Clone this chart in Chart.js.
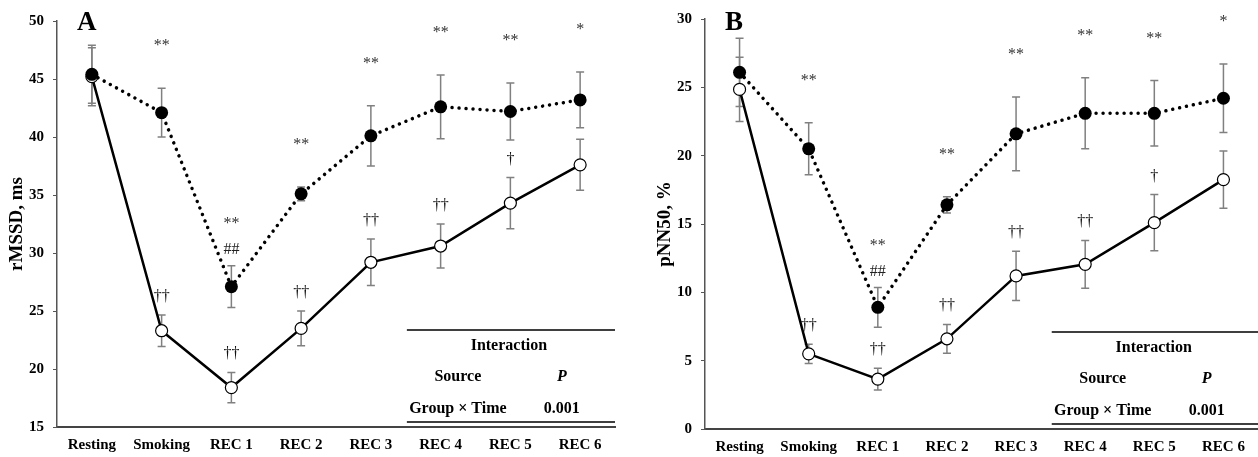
<!DOCTYPE html>
<html>
<head>
<meta charset="utf-8">
<script src="https://cdn.jsdelivr.net/npm/chart.js@4"></script>
<style>
  body { margin: 0; background: #fff; }
  #wrap { position: relative; width: 1258px; height: 457px; overflow: hidden; }
  canvas { position: absolute; top: 0; }
</style>
</head>
<body>
<div id="wrap">
  <canvas id="chartA" width="629" height="457" style="left:0"></canvas>
  <canvas id="chartB" width="610" height="457" style="left:648px"></canvas>
</div>
<script>
const timePoints = ['Resting', 'Smoking', 'REC 1', 'REC 2', 'REC 3', 'REC 4', 'REC 5', 'REC 6'];

// panel A: rMSSD, ms
const rmssdFilled = [45.4, 42.1, 27.1, 35.1, 40.1, 42.6, 42.2, 43.2];
const rmssdFilledErr = [2.5, 2.1, 1.8, 0.6, 2.6, 2.75, 2.45, 2.4];
const rmssdOpen = [45.2, 23.3, 18.4, 23.5, 29.2, 30.6, 34.3, 37.6];
const rmssdOpenErr = [2.5, 1.35, 1.3, 1.5, 2.0, 1.9, 2.2, 2.2];
const rmssdStars = ['', '**', '**', '**', '**', '**', '**', '*'];
const rmssdHashes = ['', '', '##', '', '', '', '', ''];
const rmssdDaggers = ['', '††', '††', '††', '††', '††', '†', ''];
const rmssdTicks = { min: 15, max: 50, step: 5 };

// panel B: pNN50, %
const pnnFilled = [26.1, 20.5, 8.9, 16.4, 21.6, 23.1, 23.1, 24.2];
const pnnFilledErr = [2.5, 1.9, 1.45, 0.6, 2.7, 2.6, 2.4, 2.5];
const pnnOpen = [24.85, 5.5, 3.65, 6.6, 11.2, 12.05, 15.1, 18.25];
const pnnOpenErr = [2.35, 0.7, 0.8, 1.05, 1.8, 1.75, 2.05, 2.1];
const pnnStars = ['', '**', '**', '**', '**', '**', '**', '*'];
const pnnHashes = ['', '', '##', '', '', '', '', ''];
const pnnDaggers = ['', '††', '††', '††', '††', '††', '†', ''];
const pnnTicks = { min: 0, max: 30, step: 5 };

// interaction table
const tableTitle = 'Interaction';
const tableHead = ['Source', 'P'];
const tableRow = ['Group × Time', '0.001'];

const SERIF = "'Liberation Serif', 'Times New Roman', serif";

function makeChart(id, opts) {
  const overlay = {
    id: 'overlay',
    beforeDatasetsDraw(chart) {
      const ctx = chart.ctx;
      const y = chart.scales.y;
      ctx.save();
      ctx.strokeStyle = '#808080';
      ctx.lineWidth = 1.5;
      chart.data.datasets.forEach((ds, di) => {
        const meta = chart.getDatasetMeta(di);
        meta.data.forEach((pt, i) => {
          const v = ds.data[i], e = ds.errors[i];
          const top = y.getPixelForValue(v + e), bot = y.getPixelForValue(v - e);
          ctx.beginPath();
          ctx.moveTo(pt.x, top); ctx.lineTo(pt.x, bot);
          ctx.moveTo(pt.x - 4, top); ctx.lineTo(pt.x + 4, top);
          ctx.moveTo(pt.x - 4, bot); ctx.lineTo(pt.x + 4, bot);
          ctx.stroke();
        });
      });
      ctx.restore();
    },
    afterDraw(chart) {
      const ctx = chart.ctx;
      const y = chart.scales.y;
      const ca = chart.chartArea;
      const filled = chart.getDatasetMeta(0).data;
      const open = chart.getDatasetMeta(1).data;
      ctx.save();
      ctx.textAlign = 'center';
      ctx.textBaseline = 'alphabetic';
      filled.forEach((pt, i) => {
        const top = y.getPixelForValue(opts.filled[i] + opts.filledErr[i]);
        if (opts.stars[i]) {
          ctx.fillStyle = '#333';
          ctx.font = '16px ' + SERIF;
          ctx.fillText(opts.stars[i], pt.x, top - 46 + 8);
        }
        if (opts.hashes[i]) {
          ctx.fillStyle = '#222';
          ctx.font = '16px ' + SERIF;
          ctx.fillText(opts.hashes[i], pt.x, top - 18 + 6);
        }
      });
      open.forEach((pt, i) => {
        const top = y.getPixelForValue(opts.open[i] + opts.openErr[i]);
        if (opts.daggers[i]) {
          ctx.fillStyle = '#111';
          ctx.font = '16px ' + SERIF;
          ctx.fillText(opts.daggers[i], pt.x, top - 19 + 5);
        }
      });

      // panel letter
      ctx.fillStyle = '#000';
      ctx.textAlign = 'left';
      ctx.font = 'bold 27px ' + SERIF;
      ctx.fillText(opts.letter, ca.left + 20, 30);

      // interaction table
      const tl = ca.left + 0.627 * (ca.right - ca.left);
      const tr = ca.right;
      const b = ca.bottom;
      ctx.strokeStyle = '#000';
      ctx.lineWidth = 1.5;
      ctx.beginPath();
      ctx.moveTo(tl, b - 97); ctx.lineTo(tr, b - 97);
      ctx.moveTo(tl, b - 5); ctx.lineTo(tr, b - 5);
      ctx.stroke();
      ctx.textAlign = 'center';
      ctx.textBaseline = 'middle';
      ctx.font = 'bold 16px ' + SERIF;
      ctx.fillText(tableTitle, tl + 102, b - 81);
      ctx.fillText(tableHead[0], tl + 51, b - 50);
      ctx.fillText(tableRow[0], tl + 51, b - 18);
      ctx.fillText(tableRow[1], tl + 155, b - 18);
      ctx.font = 'italic bold 16px ' + SERIF;
      ctx.fillText(tableHead[1], tl + 155, b - 50);
      ctx.restore();
    }
  };

  return new Chart(document.getElementById(id), {
    type: 'line',
    data: {
      labels: timePoints,
      datasets: [
        {
          label: 'filled',
          data: opts.filled,
          errors: opts.filledErr,
          borderColor: '#000',
          borderWidth: 3.5,
          borderDash: [0.01, 7],
          borderCapStyle: 'round',
          pointRadius: 6.5,
          pointBackgroundColor: '#000',
          pointBorderColor: '#000',
          pointBorderWidth: 0,
          tension: 0
        },
        {
          label: 'open',
          data: opts.open,
          errors: opts.openErr,
          borderColor: '#000',
          borderWidth: 2.5,
          pointRadius: 6,
          pointBackgroundColor: '#fff',
          pointBorderColor: '#000',
          pointBorderWidth: 1.2,
          tension: 0
        }
      ]
    },
    options: {
      responsive: false,
      animation: false,
      layout: { autoPadding: false, padding: { top: opts.padTop, right: opts.padRight, left: 0, bottom: 0 } },
      plugins: { legend: { display: false }, tooltip: { enabled: false } },
      scales: {
        x: {
          offset: true,
          grid: { display: false, drawTicks: false },
          border: { color: '#444', width: 2 },
          ticks: { color: '#000', padding: 9, font: { family: SERIF, size: 15, weight: 'bold' } },
          afterFit(s) { s.height = opts.xHeight; s.paddingRight = 0; s.paddingLeft = 0; }
        },
        y: {
          min: opts.ticks.min,
          max: opts.ticks.max,
          grid: { drawOnChartArea: false, drawTicks: true, tickLength: 4, color: '#555' },
          border: { color: '#555', width: 1.5 },
          ticks: { stepSize: opts.ticks.step, color: '#000', padding: 9, font: { family: SERIF, size: 15, weight: 'bold' } },
          title: { display: true, text: opts.yTitle, color: '#000', padding: { top: 6, bottom: 0 }, font: { family: SERIF, size: 19, weight: 'bold' } },
          afterFit(s) { s.width = 57; }
        }
      }
    },
    plugins: [overlay]
  });
}

makeChart('chartA', {
  letter: 'A', yTitle: 'rMSSD, ms', ticks: rmssdTicks,
  filled: rmssdFilled, filledErr: rmssdFilledErr, open: rmssdOpen, openErr: rmssdOpenErr,
  stars: rmssdStars, hashes: rmssdHashes, daggers: rmssdDaggers,
  padTop: 21, padRight: 14, xHeight: 30
});

makeChart('chartB', {
  letter: 'B', yTitle: 'pNN50, %', ticks: pnnTicks,
  filled: pnnFilled, filledErr: pnnFilledErr, open: pnnOpen, openErr: pnnOpenErr,
  stars: pnnStars, hashes: pnnHashes, daggers: pnnDaggers,
  padTop: 19, padRight: 0, xHeight: 28
});
</script>
</body>
</html>
